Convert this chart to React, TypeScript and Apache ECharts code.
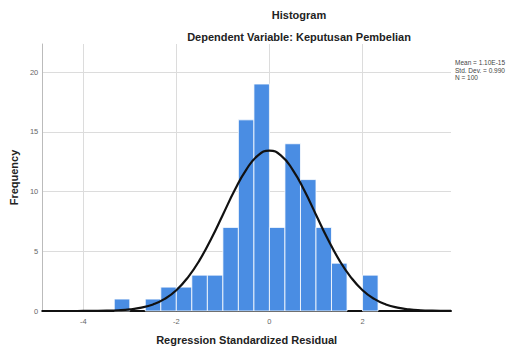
import React, { useEffect, useRef } from "react";
import * as echarts from "echarts";

// Histogram bins (regression standardized residual) and frequencies
const binEdges = [-3.333, -3, -2.667, -2.333, -2, -1.667, -1.333, -1, -0.667, -0.333, 0, 0.333, 0.667, 1, 1.333, 1.667, 2, 2.333];
const binCounts = [1, 0, 1, 2, 2, 3, 3, 7, 16, 19, 7, 14, 11, 7, 4, 0, 3];

// Fitted normal curve
const curveX = [-4.88, -4.5, -4.25, -4, -3.75, -3.5, -3.25, -3, -2.75, -2.5, -2.25, -2, -1.75, -1.5, -1.25, -1, -0.75, -0.5, -0.25, 0, 0.25, 0.5, 0.75, 1, 1.25, 1.5, 1.75, 2, 2.25, 2.5, 2.75, 3, 3.25, 3.5, 3.75, 3.9];
const curveY = [0.0, 0.0, 0.001, 0.004, 0.01, 0.026, 0.061, 0.136, 0.28, 0.55, 1.01, 1.74, 2.82, 4.26, 6.05, 8.06, 10.08, 11.82, 13.01, 13.43, 13.01, 11.82, 10.08, 8.06, 6.05, 4.26, 2.82, 1.74, 1.01, 0.55, 0.28, 0.136, 0.061, 0.026, 0.01, 0.006];

const statsLines = ["Mean = 1.10E-15", "Std. Dev. = 0.990", "N = 100"];
const titleText = "Histogram";
const subtitleText = "Dependent Variable: Keputusan Pembelian";
const xName = "Regression Standardized Residual";
const yName = "Frequency";

const FONT = "'Liberation Sans', Arial, sans-serif";

export default function App() {
  const ref = useRef<HTMLDivElement>(null);
  useEffect(() => {
    if (!ref.current) return;
    const chart = echarts.init(ref.current, null, { renderer: "svg" });
    const barData = binCounts.map((c, i) => [binEdges[i], binEdges[i + 1], c]);
    const curveData = curveX.map((x, i) => [x, curveY[i]]);
    chart.setOption({
      animation: false,
      backgroundColor: "#ffffff",
      textStyle: { fontFamily: FONT },
      grid: { left: 42, right: 64, top: 44, bottom: 39, containLabel: false },
      graphic: [
        {
          type: "text",
          x: 299,
          y: 15,
          style: { text: titleText, align: "center", verticalAlign: "middle", fontSize: 11, fontWeight: "bold", fontFamily: FONT, fill: "#222" },
        },
        {
          type: "text",
          x: 299,
          y: 37,
          style: { text: subtitleText, align: "center", verticalAlign: "middle", fontSize: 11, fontWeight: "bold", fontFamily: FONT, fill: "#222" },
        },
        {
          type: "text",
          x: 455,
          y: 59,
          style: { text: statsLines.join("\n"), align: "left", verticalAlign: "top", fontSize: 6.5, lineHeight: 7.5, fontFamily: FONT, fill: "#444" },
        },
      ],
      xAxis: {
        type: "value",
        min: -4.88,
        max: 3.9,
        name: xName,
        nameLocation: "middle",
        nameGap: 23,
        nameTextStyle: { fontSize: 11, fontWeight: "bold", color: "#222", fontFamily: FONT },
        axisLine: { show: true, onZero: false, lineStyle: { color: "#111", width: 2 } },
        axisTick: { show: false },
        axisLabel: { color: "#666", fontSize: 7.5, margin: 6, showMinLabel: false, showMaxLabel: false, fontFamily: FONT },
        splitLine: { show: true, showMinLine: false, showMaxLine: false, lineStyle: { color: "#dcdcdc", width: 1 } },
      },
      yAxis: {
        type: "value",
        min: 0,
        max: 22.35,
        interval: 5,
        name: yName,
        nameLocation: "middle",
        nameGap: 23,
        nameTextStyle: { fontSize: 11, fontWeight: "bold", color: "#222", fontFamily: FONT },
        axisLine: { show: true, onZero: false, lineStyle: { color: "#bbbbbb", width: 1 } },
        axisTick: { show: false },
        axisLabel: { color: "#666", fontSize: 7.5, margin: 4, showMaxLabel: false, fontFamily: FONT },
        splitLine: { show: true, showMinLine: false, showMaxLine: false, lineStyle: { color: "#dcdcdc", width: 1 } },
      },
      series: [
        {
          type: "custom",
          data: barData,
          encode: { x: [0, 1], y: 2 },
          renderItem: (params: any, api: any) => {
            const c = api.value(2);
            if (!c) return null;
            const p0 = api.coord([api.value(0), c]);
            const p1 = api.coord([api.value(1), 0]);
            return {
              type: "rect",
              shape: { x: p0[0], y: p0[1], width: p1[0] - p0[0], height: p1[1] - p0[1] },
              style: { fill: "#4a8de3", stroke: "#ffffff", lineWidth: 0.8 },
            };
          },
          z: 2,
        },
        {
          type: "line",
          data: curveData,
          smooth: true,
          showSymbol: false,
          symbol: "none",
          lineStyle: { color: "#111", width: 2.2 },
          z: 3,
        },
      ],
    });
    return () => chart.dispose();
  }, []);
  return <div ref={ref} style={{ position: "fixed", left: 0, top: 0, width: 515, height: 350 }} />;
}
